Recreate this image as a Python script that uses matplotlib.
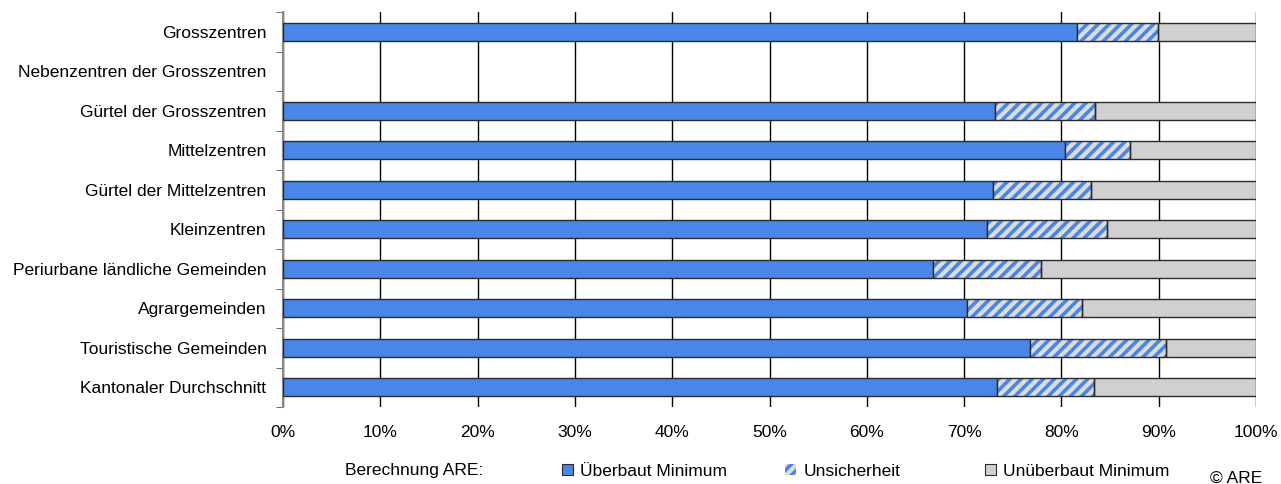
import numpy as np
import matplotlib
matplotlib.use('Agg')
import matplotlib.pyplot as plt
from matplotlib.patches import Patch
from matplotlib.ticker import FixedLocator, PercentFormatter

plt.rcParams['font.family'] = ['Liberation Sans', 'DejaVu Sans']
plt.rcParams['hatch.linewidth'] = 2.6

# ── DATA ──
categories = [
    'Grosszentren',
    'Nebenzentren der Grosszentren',
    'Gürtel der Grosszentren',
    'Mittelzentren',
    'Gürtel der Mittelzentren',
    'Kleinzentren',
    'Periurbane ländliche Gemeinden',
    'Agrargemeinden',
    'Touristische Gemeinden',
    'Kantonaler Durchschnitt',
]
# percent built at minimum, percent uncertain, rest unbuilt (None = no data)
ueberbaut = [81.6, None, 73.2, 80.4, 73.0, 72.4, 66.8, 70.3, 76.8, 73.4]
unsicher = [8.3, None, 10.2, 6.6, 10.0, 12.3, 11.1, 11.8, 13.9, 9.9]

legend_labels = ['Überbaut Minimum', 'Unsicherheit', 'Unüberbaut Minimum']

BLUE = '#4a86e8'
HATCH_BG = '#dcdcdc'
GREY = '#d0d0d0'
EDGE = '#2b2b2b'
FS = 12.5

# keep only rows with data for the bars
idx = np.array([i for i, v in enumerate(ueberbaut) if v is not None])
u = np.array([ueberbaut[i] for i in idx])
s = np.array([unsicher[i] for i in idx])
r = 100 - u - s

# ── PLOT ──
fig = plt.figure(figsize=(12.81, 4.84), dpi=100)
ax = fig.add_axes([0.221, 0.159, 0.7595, 0.816])

h = 0.46
ax.barh(idx, u, height=h, color=BLUE, edgecolor=EDGE, linewidth=1, zorder=3)
# hatch colour follows edgecolor, so the outline is drawn separately
ax.barh(idx, s, left=u, height=h, color=HATCH_BG, edgecolor=BLUE, hatch='///', linewidth=0, zorder=3)
ax.barh(idx, s, left=u, height=h, fill=False, edgecolor=EDGE, linewidth=1, zorder=4)
ax.barh(idx, r, left=u + s, height=h, color=GREY, edgecolor=EDGE, linewidth=1, zorder=3)

y = np.arange(len(categories))
ax.set_xlim(0, 100)
ax.set_ylim(len(categories) - 0.5, -0.5)
ax.set_xticks(np.arange(0, 101, 10))
ax.xaxis.set_major_formatter(PercentFormatter(decimals=0))
ax.set_yticks(y)
ax.set_yticklabels(categories)
ax.yaxis.set_minor_locator(FixedLocator(np.arange(-0.5, len(categories), 1)))
ax.tick_params(axis='y', which='major', length=0, pad=12, labelsize=FS)
ax.tick_params(axis='y', which='minor', length=5, color='#555555')
ax.tick_params(axis='x', length=0, pad=13, labelsize=FS)

ax.grid(axis='x', color='black', linewidth=1, zorder=0)
for side in ['top', 'right', 'bottom']:
    ax.spines[side].set_visible(False)
ax.spines['left'].set_color('#888888')
ax.spines['left'].set_linewidth(1.5)

# ── LEGEND ── (one small legend per entry, spaced like the original)
handles = [
    Patch(facecolor=BLUE, edgecolor=EDGE, linewidth=0.8),
    Patch(facecolor=HATCH_BG, edgecolor=BLUE, hatch='///', linewidth=0),
    Patch(facecolor=GREY, edgecolor=EDGE, linewidth=0.8),
]
legend_x = [562, 785, 985]
for hnd, lab, lx in zip(handles, legend_labels, legend_x):
    fig.legend([hnd], [lab], loc='center left', bbox_to_anchor=(lx / 1281, 1 - 471 / 484),
               frameon=False, handlelength=0.65, handleheight=0.65, handletextpad=0.4,
               fontsize=FS, borderaxespad=0, borderpad=0)
fig.text(345 / 1281, 1 - 471 / 484, 'Berechnung ARE:', ha='left', va='center', fontsize=FS)
fig.text(1262 / 1281, 1 - 478 / 484, '© ARE', ha='right', va='center', fontsize=FS)

fig.savefig('out.png', dpi=100)
